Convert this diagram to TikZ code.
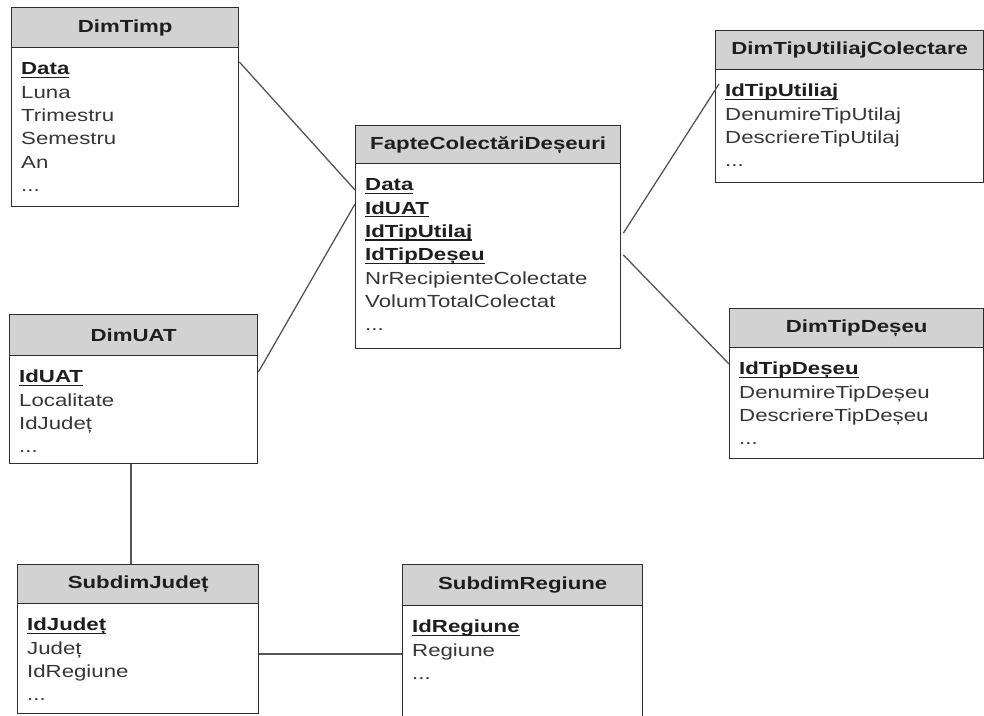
\documentclass[tikz,border=0pt]{standalone}
\usepackage{fontspec}
\setmainfont[FakeStretch=1.27]{Liberation Sans}

\definecolor{hdrfill}{HTML}{D2D2D2}
\definecolor{frame}{HTML}{2E2E2E}
\definecolor{wire}{HTML}{555555}
\definecolor{plaintxt}{HTML}{363636}
\definecolor{keytxt}{HTML}{1E1E1E}

% underlined bold key attribute
\newcommand\keyattr[1]{{\color{keytxt}\setbox0\hbox{\bfseries #1}\rlap{\rule[-3.2pt]{\wd0}{1.5pt}}\box0}}
% attribute list whose baseline is that of its first line
\newcommand\attrlist[1]{\begin{tabular}[t]{@{}l@{}}#1\end{tabular}}

\tikzset{
  tblbody/.style={draw=frame, line width=1.4pt, fill=white, rectangle, inner sep=0pt},
  tblhead/.style={draw=frame, line width=1.4pt, fill=hdrfill, rectangle, inner sep=0pt,
                  font=\fontsize{17.5}{21}\selectfont\bfseries, text=keytxt},
  tblfields/.style={inner sep=0pt, text=plaintxt,
                  font=\fontsize{17.5}{23.3}\selectfont},
  link/.style={draw=wire, line width=1.3pt}
}

% #1 name, #2 left, #3 top, #4 right, #5 header bottom, #6 bottom, #7 title, #8 attributes
\newcommand\ertable[8]{%
  \node[tblbody, anchor=north west, minimum width={#4-#2}, minimum height={#6-#3}] (#1) at (#2,#3) {};
  \node[tblhead, anchor=north west, minimum width={#4-#2}, minimum height={#5-#3}] (#1-h) at (#1.north west) {#7};
  \node[tblfields, anchor=base west] (#1-f) at ([xshift=10pt,yshift=-26.5pt]#1-h.south west) {\attrlist{#8}};
}

\begin{document}
\begin{tikzpicture}[x=1pt,y=-1pt]
\useasboundingbox (0,0) rectangle (984,715);

\ertable{timp}{11}{7}{238}{47}{206}{DimTimp}
  {\keyattr{Data}\\Luna\\Trimestru\\Semestru\\An\\...}
\ertable{fapte}{355}{125}{620}{163}{348}{FapteColectăriDeșeuri}
  {\keyattr{Data}\\\keyattr{IdUAT}\\\keyattr{IdTipUtilaj}\\\keyattr{IdTipDeșeu}\\NrRecipienteColectate\\VolumTotalColectat\\...}
\ertable{util}{715}{30}{983}{69}{182}{DimTipUtiliajColectare}
  {\keyattr{IdTipUtiliaj}\\DenumireTipUtilaj\\DescriereTipUtilaj\\...}
\ertable{deseu}{729}{308}{983}{347}{458}{DimTipDeșeu}
  {\keyattr{IdTipDeșeu}\\DenumireTipDeșeu\\DescriereTipDeșeu\\...}
\ertable{uat}{9}{314}{257}{355}{463}{DimUAT}
  {\keyattr{IdUAT}\\Localitate\\IdJudeț\\...}
\ertable{jud}{17}{564}{258}{603}{713}{SubdimJudeț}
  {\keyattr{IdJudeț}\\Județ\\IdRegiune\\...}
\ertable{reg}{402}{564}{642}{605}{735}{SubdimRegiune}
  {\keyattr{IdRegiune}\\Regiune\\...}

% relationships
\draw[link] ([yshift=-55pt]timp.north east) -- ([yshift=-65pt]fapte.north west);
\draw[link] ([yshift=-58pt]uat.north east) -- ([yshift=-79pt]fapte.north west);
\draw[link] ([xshift=2pt,yshift=-108pt]fapte.north east) -- ([xshift=4pt,yshift=-54pt]util.north west);
\draw[link] ([xshift=2pt,yshift=-130pt]fapte.north east) -- ([yshift=-56pt]deseu.north west);
\draw[link] ([xshift=122pt]uat.south west) -- ([xshift=114pt]jud.north west);
\draw[link] ([yshift=-90pt]jud.north east) -- ([yshift=-90pt]reg.north west);
\end{tikzpicture}
\end{document}
